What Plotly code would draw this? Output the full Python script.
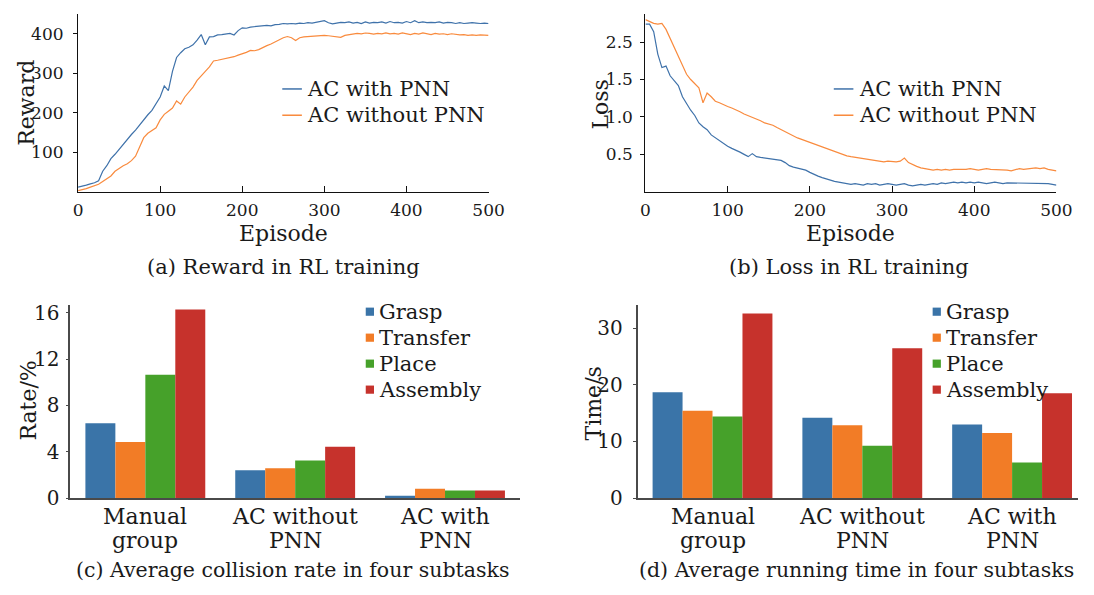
import plotly.graph_objects as go

# ---------------- data ----------------
episodes = list(range(0, 501, 5))

reward_with_pnn = [
    12, 14, 17, 20, 23, 28, 52, 66, 84, 95,
    108, 122, 134, 145, 156, 170, 183, 195, 206, 222,
    240, 268, 256, 305, 340, 352, 362, 366, 372, 384,
    398, 372, 392, 393, 397, 398, 399, 401, 397, 408,
    415, 414, 417, 418, 419, 420, 421, 420, 423, 424,
    426, 425, 426, 425, 427, 426, 428, 427, 429, 431,
    433, 428, 425, 427, 429, 428, 430, 427, 429, 426,
    430, 427, 429, 428, 430, 427, 431, 428, 429, 427,
    431, 428, 433, 428, 430, 428, 429, 428, 430, 427,
    429, 428, 426, 428, 426, 427, 428, 427, 426, 427,
    426]

reward_without_pnn = [
    3, 5, 8, 12, 15, 19, 26, 33, 40, 52,
    60, 66, 71, 79, 90, 115, 137, 148, 155, 162,
    182, 196, 204, 212, 230, 222, 240, 253, 265, 282,
    295, 305, 316, 331, 333, 335, 338, 340, 342, 346,
    349, 353, 358, 357, 360, 366, 370, 374, 380, 386,
    390, 393, 390, 383, 390, 392, 393, 394, 394, 395,
    396, 395, 394, 392, 391, 396, 398, 399, 401, 400,
    402, 401, 399, 401, 400, 402, 400, 401, 399, 402,
    400, 398, 401, 399, 402, 400, 398, 401, 399, 400,
    398, 400, 399, 397, 398, 396, 397, 396, 397, 396,
    396]

loss_with_pnn = [
    2.24, 2.24, 2.14, 1.84, 1.66, 1.68, 1.55, 1.49, 1.42, 1.27,
    1.18, 1.09, 1.02, 0.92, 0.87, 0.83, 0.76, 0.72, 0.69, 0.65,
    0.61, 0.58, 0.56, 0.53, 0.50, 0.47, 0.51, 0.47, 0.46, 0.45,
    0.44, 0.44, 0.43, 0.42, 0.39, 0.35, 0.33, 0.32, 0.30, 0.29,
    0.26, 0.23, 0.21, 0.19, 0.17, 0.15, 0.14, 0.13, 0.12, 0.11,
    0.10, 0.11, 0.10, 0.09, 0.11, 0.10, 0.11, 0.09, 0.10, 0.11,
    0.10, 0.09, 0.10, 0.11, 0.09, 0.08, 0.09, 0.10, 0.09, 0.10,
    0.11, 0.10, 0.12, 0.11, 0.12, 0.13, 0.12, 0.13, 0.12, 0.13,
    0.12, 0.13, 0.12, 0.11, 0.12, 0.13, 0.12, 0.11, 0.12, 0.12,
    0.11, 0.12, 0.11, 0.12, 0.11, 0.12, 0.11, 0.12, 0.11, 0.10,
    0.09]

loss_without_pnn = [
    2.30, 2.27, 2.25, 2.24, 2.25, 2.17, 2.05, 1.94, 1.82, 1.68,
    1.57, 1.50, 1.45, 1.39, 1.19, 1.32, 1.27, 1.21, 1.19, 1.16,
    1.14, 1.12, 1.10, 1.07, 1.04, 1.02, 1.00, 0.98, 0.95, 0.92,
    0.91, 0.89, 0.86, 0.83, 0.80, 0.77, 0.74, 0.72, 0.70, 0.68,
    0.66, 0.63, 0.61, 0.60, 0.57, 0.55, 0.53, 0.51, 0.49, 0.48,
    0.47, 0.46, 0.45, 0.44, 0.43, 0.42, 0.41, 0.40, 0.40, 0.41,
    0.40, 0.40, 0.41, 0.45, 0.39, 0.36, 0.34, 0.32, 0.31, 0.30,
    0.29, 0.30, 0.29, 0.30, 0.29, 0.30, 0.30, 0.29, 0.30, 0.31,
    0.30, 0.29, 0.30, 0.31, 0.30, 0.30, 0.29, 0.30, 0.29, 0.28,
    0.30, 0.31, 0.30, 0.31, 0.31, 0.32, 0.31, 0.32, 0.30, 0.29,
    0.28]

line_names = ["AC with PNN", "AC without PNN"]

episode_ticks = [0, 100, 200, 300, 400, 500]
reward_ticks = [100, 200, 300, 400]
loss_tickvals = [0.5, 1.0, 1.5, 2.0]
loss_ticktext = ["0.5", "1.0", "1.5", "2.5"]

groups = ["Manual group", "AC without PNN", "AC with PNN"]
group_label_lines = [["Manual", "group"], ["AC without", "PNN"], ["AC with", "PNN"]]
subtasks = ["Grasp", "Transfer", "Place", "Assembly"]

collision_grasp = [6.45, 2.41, 0.20]
collision_transfer = [4.84, 2.58, 0.81]
collision_place = [10.65, 3.25, 0.65]
collision_assembly = [16.28, 4.43, 0.65]

time_grasp = [18.7, 14.2, 13.0]
time_transfer = [15.4, 12.85, 11.5]
time_place = [14.4, 9.24, 6.3]
time_assembly = [32.6, 26.45, 18.5]

rate_ticks = [0, 4, 8, 12, 16]
time_ticks = [0, 10, 20, 30]

captions = ["(a) Reward in RL training", "(b) Loss in RL training",
            "(c) Average collision rate in four subtasks",
            "(d) Average running time in four subtasks"]

# ---------------- style ----------------
W, H = 1094, 595  # design size (the page fills the window)
FONT = "DejaVu Serif"
TXT = "#1a1a1a"
line_colors = ["#3f72aa", "#f98b3e"]
bar_colors = ["#3a74a8", "#f27c26", "#46a12a", "#c6322c"]


def fx(px):
    return px / W


def fy(py):
    return 1 - py / H


fig = go.Figure()

# line charts
fig.add_trace(go.Scatter(x=episodes, y=reward_with_pnn, mode="lines", name=line_names[0],
                         line=dict(color=line_colors[0], width=1.2), xaxis="x", yaxis="y"))
fig.add_trace(go.Scatter(x=episodes, y=reward_without_pnn, mode="lines", name=line_names[1],
                         line=dict(color=line_colors[1], width=1.2), xaxis="x", yaxis="y"))
fig.add_trace(go.Scatter(x=episodes, y=loss_with_pnn, mode="lines", name=line_names[0],
                         line=dict(color=line_colors[0], width=1.2), xaxis="x2", yaxis="y2"))
fig.add_trace(go.Scatter(x=episodes, y=loss_without_pnn, mode="lines", name=line_names[1],
                         line=dict(color=line_colors[1], width=1.2), xaxis="x2", yaxis="y2"))

# bar charts
coll = [collision_grasp, collision_transfer, collision_place, collision_assembly]
tim = [time_grasp, time_transfer, time_place, time_assembly]
for i, name in enumerate(subtasks):
    fig.add_trace(go.Bar(x=groups, y=coll[i], name=name, marker=dict(color=bar_colors[i], line=dict(width=0)),
                         xaxis="x3", yaxis="y3"))
for i, name in enumerate(subtasks):
    fig.add_trace(go.Bar(x=groups, y=tim[i], name=name, marker=dict(color=bar_colors[i], line=dict(width=0)),
                         xaxis="x4", yaxis="y4"))

top_axis_common = dict(showline=True, linecolor="#111", linewidth=1.3, showgrid=False, zeroline=False,
                       tickfont=dict(family=FONT, size=17, color=TXT), tickcolor="#111")
bot_axis_common = dict(showline=True, linecolor="#4a4a4a", linewidth=1.8, showgrid=False, zeroline=False,
                       tickfont=dict(family=FONT, size=20, color=TXT), tickcolor="#4a4a4a")

fig.update_layout(
    margin=dict(l=0, r=0, t=0, b=0), autosize=True,
    paper_bgcolor="white", plot_bgcolor="white", showlegend=False,
    barmode="group", bargap=0.2, bargroupgap=0,
    xaxis=dict(domain=[fx(74.5), fx(493)], anchor="y", range=[0, 500], tickvals=episode_ticks,
               ticks="inside", ticklen=6, ticklabelstandoff=3, **top_axis_common),
    yaxis=dict(domain=[fy(193), fy(10.7)], anchor="x", range=[0, 449], tickvals=reward_ticks,
               ticks="outside", ticklen=4, ticklabelstandoff=6, **top_axis_common),
    xaxis2=dict(domain=[fx(653), fx(1072)], anchor="y2", range=[0, 500], tickvals=episode_ticks,
                ticks="inside", ticklen=6, ticklabelstandoff=3, **top_axis_common),
    yaxis2=dict(domain=[fy(193), fy(10.7)], anchor="x2", range=[0, 2.37], tickvals=loss_tickvals,
                ticktext=loss_ticktext, ticks="outside", ticklen=4, ticklabelstandoff=4, **top_axis_common),
    xaxis3=dict(domain=[fx(66.7), fx(525)], anchor="y3", range=[-0.5, 2.5], type="category",
                showticklabels=False, ticks="", **bot_axis_common),
    yaxis3=dict(domain=[fy(507.7), fy(309.3)], anchor="x3", range=[0, 16.67], tickvals=rate_ticks,
                ticks="outside", ticklen=3, ticklabelstandoff=2, **bot_axis_common),
    xaxis4=dict(domain=[fx(645), 1.0], anchor="y4", range=[-0.5, 2.44], type="category",
                showticklabels=False, ticks="", **bot_axis_common),
    yaxis4=dict(domain=[fy(507.7), fy(309.3)], anchor="x4", range=[0, 34.1], tickvals=time_ticks,
                ticks="outside", ticklen=3, ticklabelstandoff=6, **bot_axis_common),
)

ann = []
shapes = []


def text(x, y, s, size=22, angle=0, xanchor="center"):
    ann.append(dict(x=fx(x), y=fy(y), xref="paper", yref="paper", text=s, showarrow=False,
                    textangle=angle, xanchor=xanchor, yanchor="middle",
                    font=dict(family=FONT, size=size, color=TXT)))


# axis titles
text(22, 102, "Reward", angle=-90)
text(283.5, 236, "Episode")
text(607, 103, "Loss", angle=-90)
text(862.5, 236, "Episode")
text(23, 408, "Rate/%", angle=-90)
text(600, 410, "Time/s", angle=-90)

# captions
text(283.5, 270, captions[0], size=21)
text(861, 270, captions[1], size=21)
text(294, 582, captions[2], size=20.5)
text(868, 582, captions[3], size=20.5)

# category labels (two lines) for bar charts
for xref in ("x3", "x4"):
    for g, lines in zip(groups, group_label_lines):
        for k, ln in enumerate(lines):
            ann.append(dict(x=g, y=fy(527 + 24.7 * k), xref=xref, yref="paper", text=ln, showarrow=False,
                            xanchor="center", yanchor="middle", font=dict(family=FONT, size=22, color=TXT)))

# manual legends for line charts
for (lx0, tx) in ((282.7, 308.3), (845, 870.7)):
    for i, name in enumerate(line_names):
        yy = 87.3 + 27 * i
        shapes.append(dict(type="line", xref="paper", yref="paper", x0=fx(lx0), x1=fx(lx0 + 20),
                           y0=fy(yy), y1=fy(yy), line=dict(color=line_colors[i], width=1.5)))
        text(tx - 2, yy, name, size=21, xanchor="left")

# manual legends for bar charts
for (sx, tx) in ((372, 381.7), (950, 959.3)):
    for i, name in enumerate(subtasks):
        yy = 316.2 + 26.7 * i
        shapes.append(dict(type="rect", xref="paper", yref="paper", x0=fx(sx - 4.2), x1=fx(sx + 4.2),
                           y0=fy(yy + 4.2), y1=fy(yy - 4.2), fillcolor=bar_colors[i], line=dict(width=0)))
        text(tx - 2, yy, name, size=21, xanchor="left")

fig.update_layout(annotations=ann, shapes=shapes)

page_fix = (
    "document.documentElement.style.margin='0';document.body.style.margin='0';"
    "document.documentElement.style.overflow='hidden';document.body.style.overflow='hidden';"
    "var gd=document.getElementById('{plot_id}');gd.style.overflow='hidden';"
    "gd.style.position='fixed';gd.style.left='0px';gd.style.top='0px';"
    "gd.style.width='100vw';gd.style.height='100vh';"
)
fig.write_html("out.html", config={"displayModeBar": False, "responsive": True},
               default_width="100vw", default_height="100vh", post_script=page_fix)
